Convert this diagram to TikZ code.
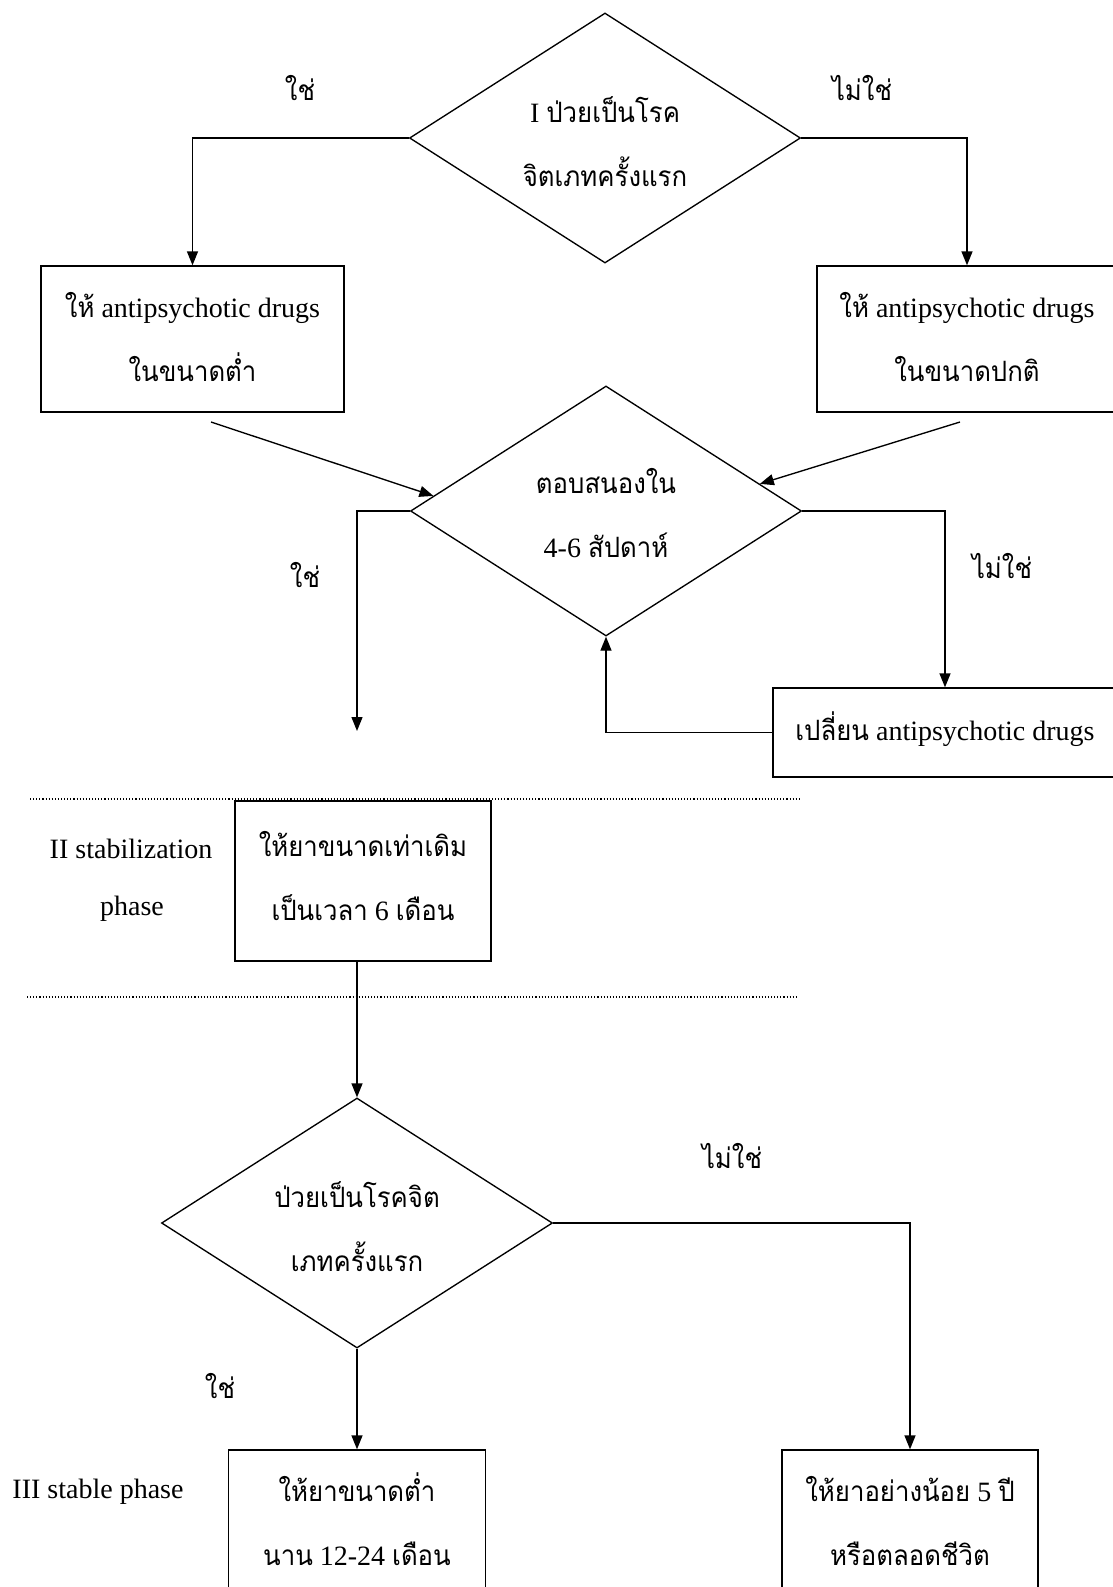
\documentclass[tikz,border=0pt]{standalone}
\usepackage{fontspec}
\setmainfont{Liberation Serif}
\newfontfamily\thfont[Script=Thai,FakeStretch=0.92]{Loma}
\newcommand\T[1]{{\thfont #1}}
\newcommand\twol[2]{\vtop{\baselineskip=64pt\lineskiplimit=-\maxdimen\lineskip=0pt\halign{\hfil##\hfil\cr#1\cr#2\cr}}}
\usetikzlibrary{shapes.geometric,arrows.meta}
\begin{document}
\begin{tikzpicture}[x=1pt,y=-1pt,line width=1.35pt,
  every node/.style={font=\fontsize{28}{34}\selectfont, inner sep=0pt},
  box/.style={draw, rectangle},
  dec/.style={draw, diamond, aspect=1.56, minimum width=391pt, minimum height=250pt},
  arr/.style={-{Triangle[length=14pt,width=11pt]}},
  sep/.style={dotted, line width=1.1pt}]
\useasboundingbox (0,0) rectangle (1112,1587);
% decisions and boxes
\node[dec, text height=30pt, text depth=62pt] (q1) at (605,138) {\twol{I \T{ป่วยเป็นโรค}}{\T{จิตเภทครั้งแรก}}};
\node[box, minimum width=303pt, minimum height=146pt, text height=30pt, text depth=74pt] (b1) at (192.5,339) {\twol{\T{ให้} antipsychotic drugs}{\T{ในขนาดต่ำ}}};
\node[box, minimum width=300pt, minimum height=146pt, text height=30pt, text depth=74pt] (b2) at (967,339) {\twol{\T{ให้} antipsychotic drugs}{\T{ในขนาดปกติ}}};
\node[dec, text height=30pt, text depth=66pt] (q2) at (606,511) {\twol{\T{ตอบสนองใน}}{4-6 \T{สัปดาห์}}};
\node[box, minimum width=344pt, minimum height=89pt, text height=25pt, text depth=10pt] (b3) at (945,732.5) {\T{เปลี่ยน} antipsychotic drugs};
\node[box, minimum width=256pt, minimum height=160pt, text height=30pt, text depth=80pt] (b4) at (363,881) {\twol{\T{ให้ยาขนาดเท่าเดิม}}{\T{เป็นเวลา} 6 \T{เดือน}}};
\node[dec, text height=30pt, text depth=62pt] (q3) at (357,1223) {\twol{\T{ป่วยเป็นโรคจิต}}{\T{เภทครั้งแรก}}};
\node[box, minimum width=257pt, minimum height=160pt, text height=30pt, text depth=88pt] (b5) at (357,1530) {\twol{\T{ให้ยาขนาดต่ำ}}{\T{นาน} 12-24 \T{เดือน}}};
\node[box, minimum width=256pt, minimum height=160pt, text height=30pt, text depth=88pt] (b6) at (910,1530) {\twol{\T{ให้ยาอย่างน้อย} 5 \T{ปี}}{\T{หรือตลอดชีวิต}}};
% labels
\node[anchor=base] (l1) at (300,100) {\T{ใช่}};
\node[anchor=base] (l2) at (862,100) {\T{ไม่ใช่}};
\node[anchor=base] (l3) at (305,587) {\T{ใช่}};
\node[anchor=base] (l4) at (1002,578) {\T{ไม่ใช่}};
\node[anchor=base] (l5) at (732,1168) {\T{ไม่ใช่}};
\node[anchor=base] (l6) at (220,1398) {\T{ใช่}};
\node[anchor=base] (p1) at (131,858) {II stabilization};
\node[anchor=base] (p2) at (132,915) {phase};
\node[anchor=base] (p3) at (98,1498) {III stable phase};
% free ends
\coordinate (s1) at (211,422);
\coordinate (s2) at (960,422);
\coordinate (yend) at (357,731);
\coordinate (d1a) at (30,799);
\coordinate (d1b) at (801,799);
\coordinate (d2a) at (27,997);
\coordinate (d2b) at (798,997);
% connectors
\draw[arr] (q1.west) -| (b1.north);
\draw[arr] (q1.east) -| (b2.north);
\draw[arr] (s1) -- (q2.175);
\draw[arr] (s2) -- (q2.10);
\draw[arr] (q2.west) -| (yend);
\draw[arr] (q2.east) -| (b3.north);
\draw[arr] (b3.west) -| (q2.south);
\draw[arr] (b4.south -| q3.north) -- (q3.north);
\draw[arr] (q3.south) -- (b5.north);
\draw[arr] (q3.east) -| (b6.north);
\draw[sep] (d1a) -- (d1b);
\draw[sep] (d2a) -- (d2b);
\end{tikzpicture}
\end{document}
